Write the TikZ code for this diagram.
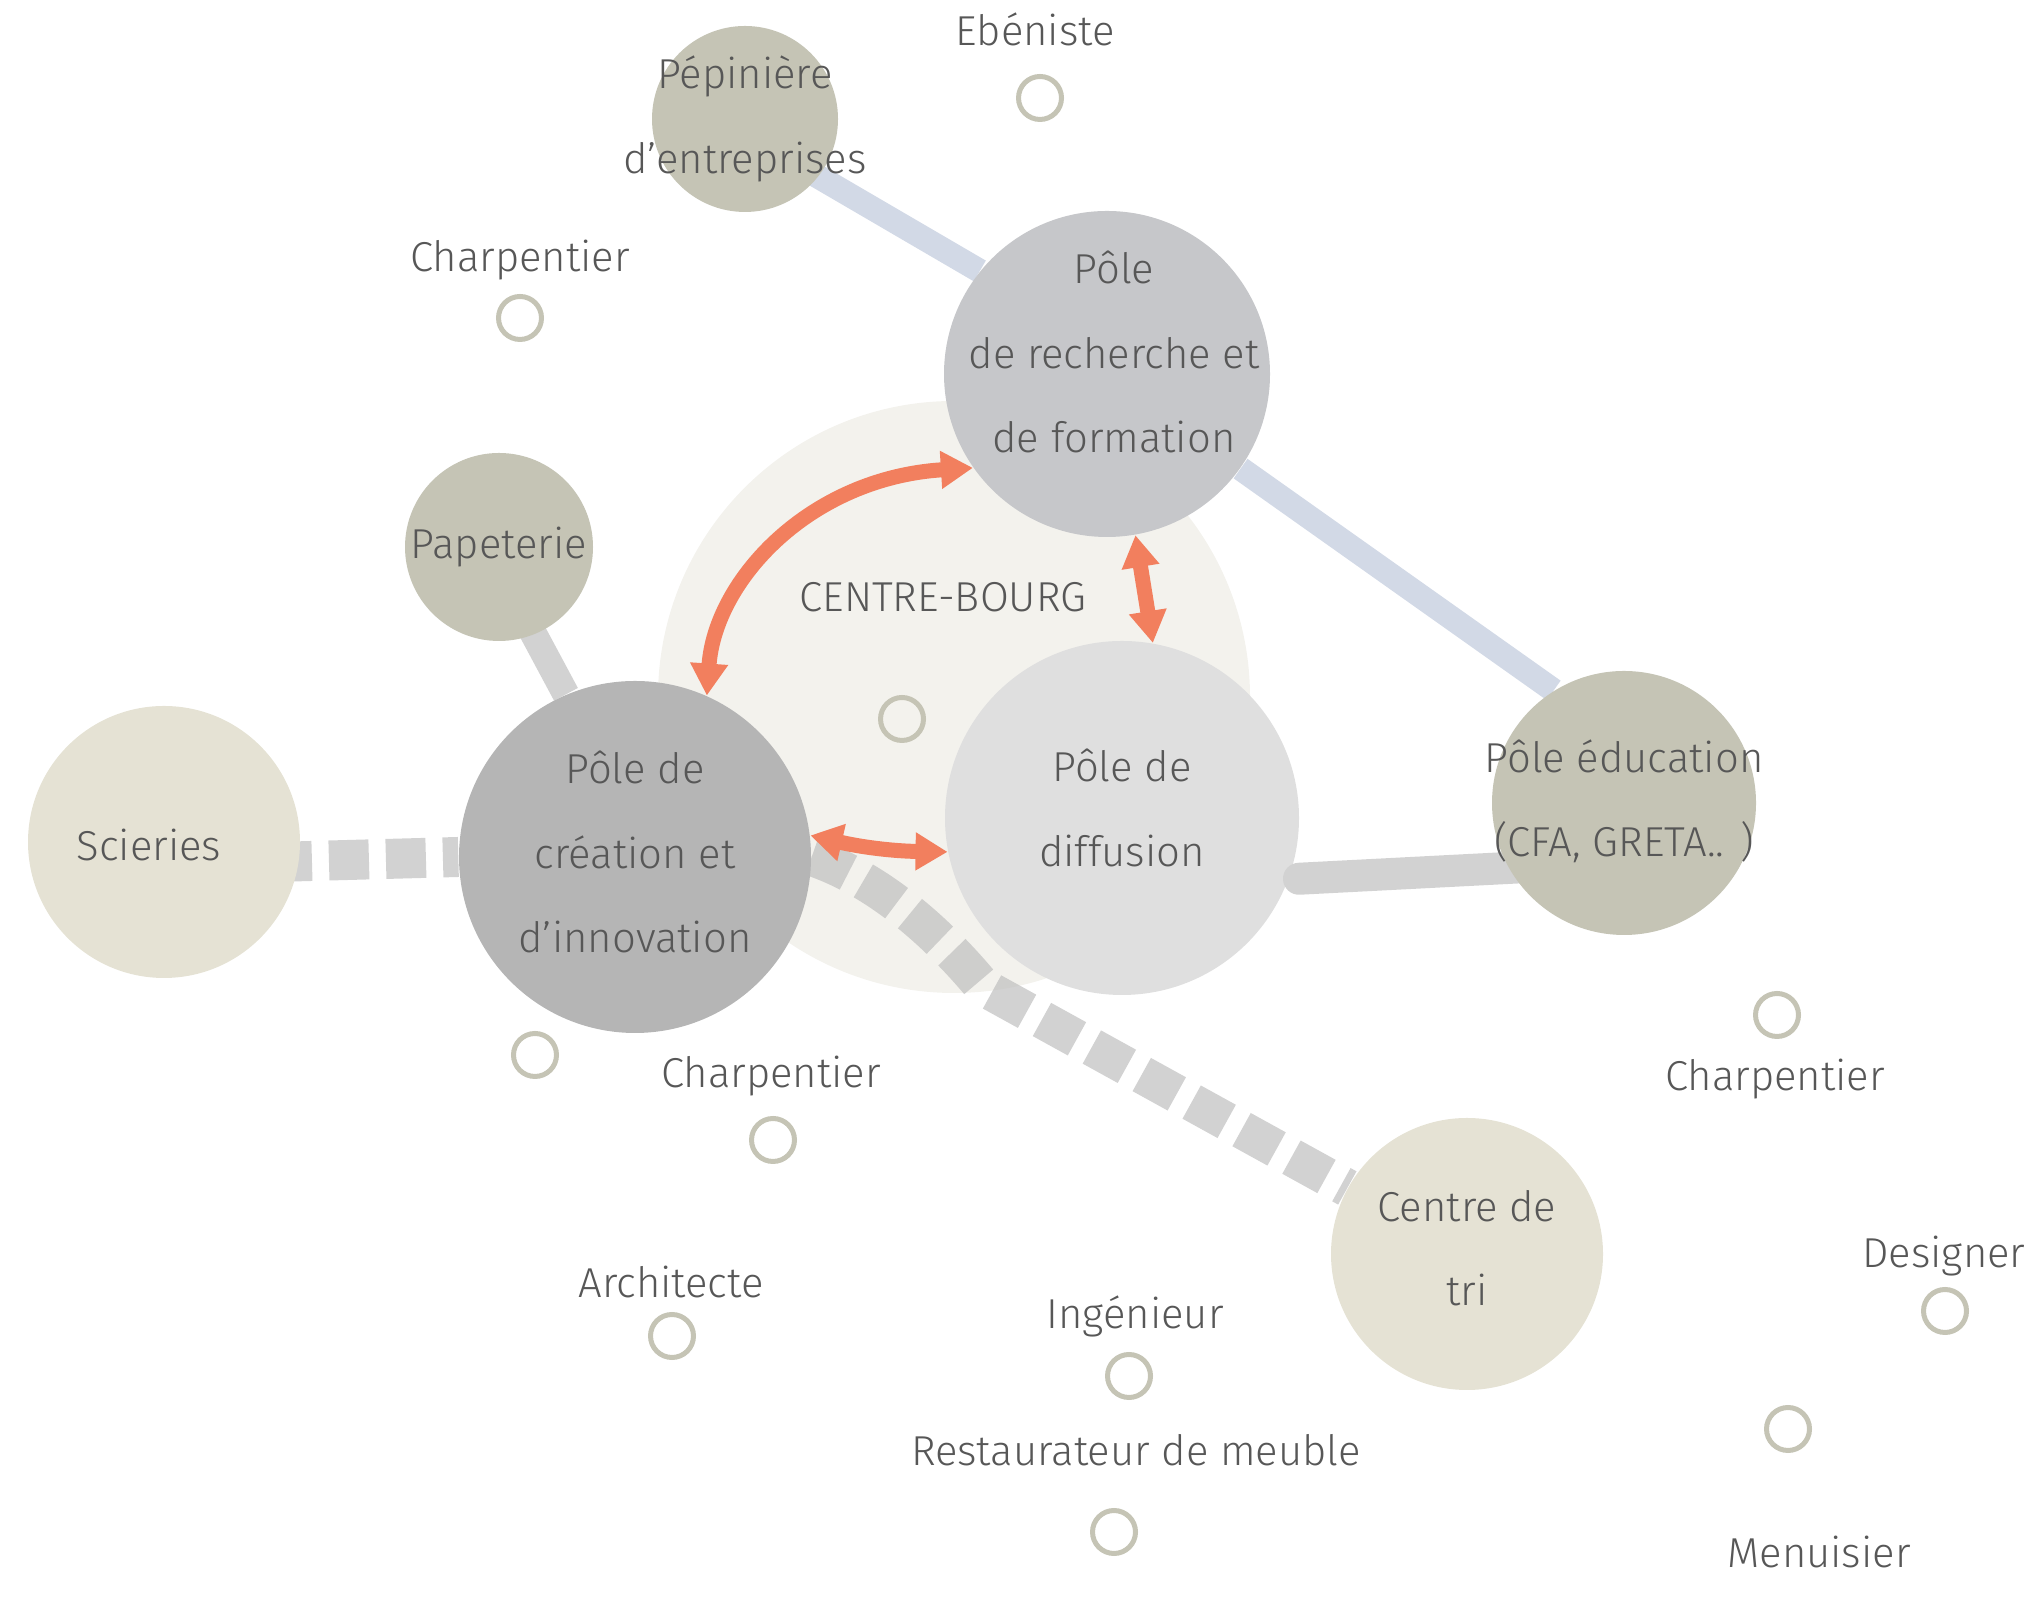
\documentclass[tikz,border=0pt]{standalone}
\usepackage{fontspec}
\setmainfont{Fira Sans}[UprightFont=* Light]
\usepackage{tikz}
\usetikzlibrary{calc,arrows.meta,backgrounds}

\definecolor{bourgfill}{HTML}{F3F2ED}
\definecolor{sandfill}{HTML}{E5E2D4}
\definecolor{khakifill}{HTML}{C5C4B5}
\definecolor{creafill}{HTML}{B5B5B5}
\definecolor{rechfill}{HTML}{C6C7CA}
\definecolor{difffill}{HTML}{DFDFDF}
\definecolor{bluelink}{HTML}{D2D9E6}
\definecolor{greylink}{HTML}{D2D2D2}
\definecolor{dashgrey}{HTML}{BFBFBF}
\definecolor{arrowred}{HTML}{F27F5E}
\definecolor{txtgrey}{HTML}{575757}

\pgfdeclarelayer{bourglayer}
\pgfdeclarelayer{links}
\pgfdeclarelayer{front}
\pgfsetlayers{bourglayer,links,main,front}

\begin{document}
\begin{tikzpicture}[
        every node/.style={text=txtgrey, font=\fontsize{11.9}{24}\selectfont},
        every label/.style={align=center},
        pole/.style={circle, inner sep=0pt},
        spot/.style={circle, draw=khakifill, line width=0.05cm, minimum size=0.43cm, inner sep=0pt},
        blue link/.style={draw=bluelink, line width=0.24cm},
        grey link/.style={draw=greylink, line width=0.27cm},
        dash link/.style={line width=0.4cm, dash pattern=on 0.4cm off 0.17cm},
        duo arrow/.style={draw=arrowred, line width=0.15cm,
            {Triangle[length=0.32cm,width=0.36cm]}-{Triangle[length=0.32cm,width=0.36cm]}}
    ]
        \useasboundingbox (0,0) rectangle (20.24,16);

        % centre-bourg
        \begin{pgfonlayer}{bourglayer}
            \node[circle, fill=bourgfill, minimum size=5.92cm, inner sep=0pt] (bourg) at (9.54,9.03) {};
        \end{pgfonlayer}

        % poles
        \node[pole, fill=khakifill, minimum size=1.86cm,
            label={center:{Pépinière\\d’entreprises}}] (pepiniere) at (7.45,14.81) {};
        \node[pole, fill=rechfill, minimum size=3.26cm,
            label={[yshift=0.22cm, xshift=0.07cm]center:{Pôle\\de recherche et\\de formation}}] (recherche) at (11.07,12.26) {};
        \node[pole, fill=khakifill, minimum size=1.88cm,
            label={center:Papeterie}] (papeterie) at (4.99,10.53) {};
        \node[pole, fill=sandfill, minimum size=2.72cm,
            label={[xshift=-0.15cm, yshift=-0.03cm]center:Scieries}] (scieries) at (1.64,7.58) {};
        \node[pole, fill=creafill, minimum size=3.52cm,
            label={[yshift=0.05cm]center:{Pôle de\\création et\\d’innovation}}] (creation) at (6.35,7.43) {};
        \node[pole, fill=difffill, minimum size=3.54cm,
            label={[yshift=0.1cm]center:{Pôle de\\diffusion}}] (diffusion) at (11.22,7.82) {};
        \node[pole, fill=sandfill, minimum size=2.72cm,
            label={[yshift=0.06cm]center:{Centre de\\tri}}] (tri) at (14.67,3.46) {};
        \begin{pgfonlayer}{front}
            \node[pole, fill=khakifill, minimum size=2.64cm,
                label={[yshift=0.02cm]center:{Pôle éducation\\(CFA, GRETA.. )}}] (education) at (16.24,7.97) {};
        \end{pgfonlayer}

        % links behind the poles
        \coordinate (kink) at (9.83,6.13);
        \begin{pgfonlayer}{links}
            \draw[blue link] ($(pepiniere)+(0,-0.15)$) -- (recherche.141);
            \draw[blue link] (recherche) -- (education.122);
            \draw[grey link] ($(papeterie)+(-0.12,0)$) -- (creation.113);
            \draw[dash link, draw=greylink, dash phase=0.06cm] ($(scieries)+(0,-0.23)$) -- (creation.west);
            \draw[dash link, draw=dashgrey, draw opacity=0.7, line width=0.38cm]
                (creation.east) .. controls (8.80,7.20) and (9.40,6.65) .. (kink) -- (tri);
        \end{pgfonlayer}
        \draw[grey link, line width=0.32cm, line cap=round] ($(diffusion.340)+(0.1,0)$) -- ($(education)+(0,-0.59)$);

        % arrows
        \draw[duo arrow] (creation.66) .. controls (7.15,10.20) and (8.10,11.22) .. (recherche.215);
        \draw[duo arrow] (recherche.280) -- (diffusion.80);
        \draw[duo arrow] (creation.7) to[bend right=6] (diffusion.191);

        \node[anchor=base] (bourg-txt) at (9.43,9.88) {CENTRE-BOURG};
        \node[spot] (bourg-spot) at (9.02,8.81) {};

        % trades
        \node[spot] (ebeniste) at (10.40,15.02) {};
        \node[anchor=base] (ebeniste-txt) at (10.35,15.54) {Ebéniste};
        \node[spot] (charp-a) at (5.20,12.82) {};
        \node[anchor=base] (charp-a-txt) at (5.20,13.28) {Charpentier};
        \node[spot] (crea-spot) at (5.35,5.45) {};
        \node[spot] (charp-b) at (7.73,4.60) {};
        \node[anchor=base] (charp-b-txt) at (7.71,5.12) {Charpentier};
        \node[spot] (charp-c) at (17.77,5.85) {};
        \node[anchor=base] (charp-c-txt) at (17.75,5.09) {Charpentier};
        \node[spot] (archi) at (6.72,2.64) {};
        \node[anchor=base] (archi-txt) at (6.71,3.02) {Architecte};
        \node[spot] (ingen) at (11.29,2.24) {};
        \node[anchor=base] (ingen-txt) at (11.35,2.71) {Ingénieur};
        \node[spot] (resta) at (11.14,0.68) {};
        \node[anchor=base] (resta-txt) at (11.36,1.34) {Restaurateur de meuble};
        \node[spot] (design) at (19.45,2.89) {};
        \node[anchor=base west] (design-txt) at (18.50,3.32) {Designer};
        \node[spot] (menuis) at (17.88,1.71) {};
        \node[anchor=base] (menuis-txt) at (18.19,0.32) {Menuisier};
\end{tikzpicture}
\end{document}
